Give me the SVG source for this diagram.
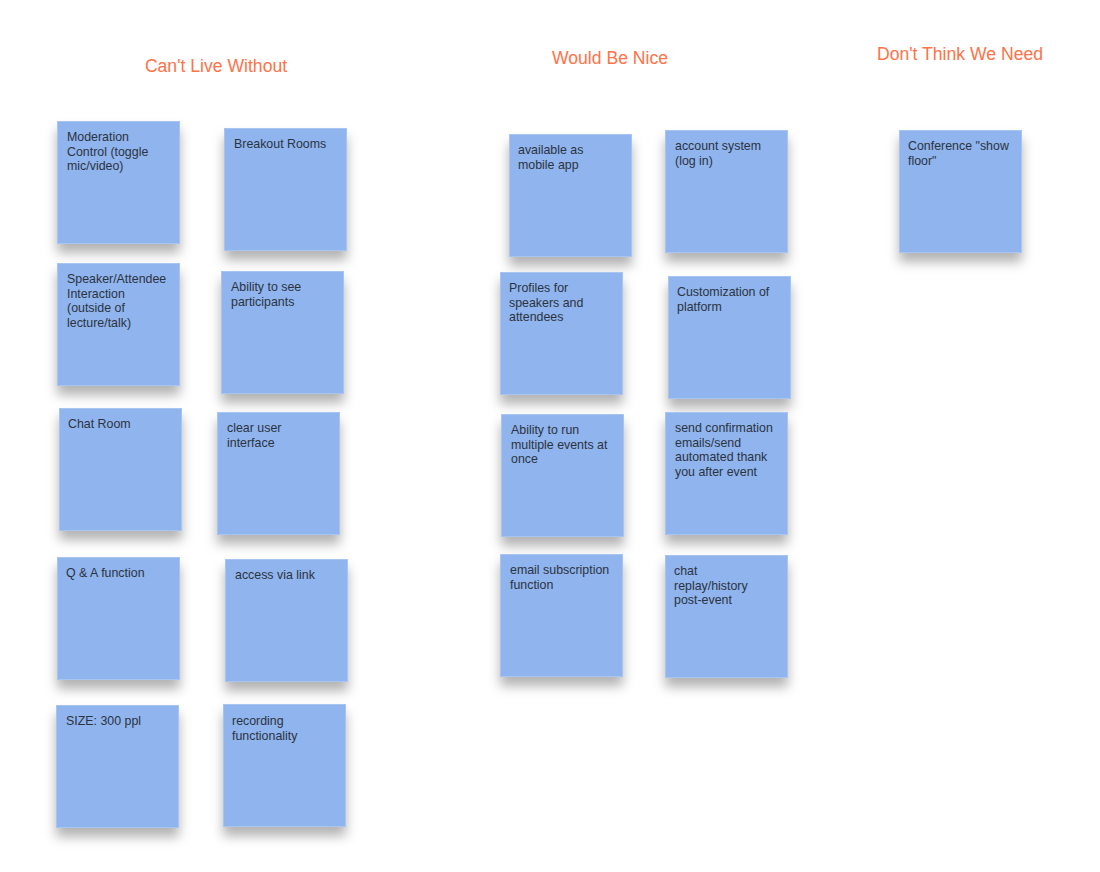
<svg xmlns="http://www.w3.org/2000/svg" width="1100" height="872" viewBox="0 0 1100 872">
<defs>
<filter id="sh" x="-20%" y="-20%" width="140%" height="160%">
<feDropShadow dx="0" dy="9" stdDeviation="6" flood-color="#000" flood-opacity="0.3"/>
</filter>
</defs>
<style>
.title{font-family:"Liberation Sans",Arial,sans-serif;font-size:17.6px;fill:#ff7247;text-anchor:middle}
.note{fill:#8fb4ee;stroke:#a8c5f2;stroke-width:1;filter:url(#sh)}
.t{font-family:"Liberation Sans",Arial,sans-serif;font-size:12.4px;fill:#2c3340}
</style>
<rect x="0" y="0" width="1100" height="872" fill="#ffffff"/>
<g id="titles">
<text class="title" x="216" y="72">Can't Live Without</text>
<text class="title" x="610" y="64">Would Be Nice</text>
<text class="title" x="960" y="60">Don't Think We Need</text>
</g>
<g id="connectors"></g>
<g id="n1"><rect class="note" x="57.5" y="121.5" width="122" height="122"/><text class="t" x="67" y="141"><tspan x="67">Moderation</tspan><tspan x="67" dy="14.5">Control (toggle</tspan><tspan x="67" dy="14.5">mic/video)</tspan></text></g>
<g id="n2"><rect class="note" x="224.5" y="128.5" width="122" height="122"/><text class="t" x="234" y="148">Breakout Rooms</text></g>
<g id="n3"><rect class="note" x="57.5" y="263.5" width="122" height="122"/><text class="t" x="67" y="283"><tspan x="67">Speaker/Attendee</tspan><tspan x="67" dy="14.5">Interaction</tspan><tspan x="67" dy="14.5">(outside of</tspan><tspan x="67" dy="14.5">lecture/talk)</tspan></text></g>
<g id="n4"><rect class="note" x="221.5" y="271.5" width="122" height="122"/><text class="t" x="231" y="291"><tspan x="231">Ability to see</tspan><tspan x="231" dy="14.5">participants</tspan></text></g>
<g id="n5"><rect class="note" x="59.5" y="408.5" width="122" height="122"/><text class="t" x="68" y="428">Chat Room</text></g>
<g id="n6"><rect class="note" x="217.5" y="412.5" width="122" height="122"/><text class="t" x="227" y="432"><tspan x="227">clear user</tspan><tspan x="227" dy="14.5">interface</tspan></text></g>
<g id="n7"><rect class="note" x="57.5" y="557.5" width="122" height="122"/><text class="t" x="66" y="577">Q &amp; A function</text></g>
<g id="n8"><rect class="note" x="225.5" y="559.5" width="122" height="122"/><text class="t" x="235" y="579">access via link</text></g>
<g id="n9"><rect class="note" x="56.5" y="705.5" width="122" height="122"/><text class="t" x="66" y="725">SIZE: 300 ppl</text></g>
<g id="n10"><rect class="note" x="223.5" y="704.5" width="122" height="122"/><text class="t" x="232" y="725"><tspan x="232">recording</tspan><tspan x="232" dy="14.5">functionality</tspan></text></g>
<g id="n11"><rect class="note" x="509.5" y="134.5" width="122" height="122"/><text class="t" x="518" y="154"><tspan x="518">available as</tspan><tspan x="518" dy="14.5">mobile app</tspan></text></g>
<g id="n12"><rect class="note" x="665.5" y="130.5" width="122" height="122"/><text class="t" x="675" y="150"><tspan x="675">account system</tspan><tspan x="675" dy="14.5">(log in)</tspan></text></g>
<g id="n13"><rect class="note" x="500.5" y="272.5" width="122" height="122"/><text class="t" x="509" y="292"><tspan x="509">Profiles for</tspan><tspan x="509" dy="14.5">speakers and</tspan><tspan x="509" dy="14.5">attendees</tspan></text></g>
<g id="n14"><rect class="note" x="668.5" y="276.5" width="122" height="122"/><text class="t" x="677" y="296"><tspan x="677">Customization of</tspan><tspan x="677" dy="14.5">platform</tspan></text></g>
<g id="n15"><rect class="note" x="501.5" y="414.5" width="122" height="122"/><text class="t" x="511" y="434"><tspan x="511">Ability to run</tspan><tspan x="511" dy="14.5">multiple events at</tspan><tspan x="511" dy="14.5">once</tspan></text></g>
<g id="n16"><rect class="note" x="665.5" y="412.5" width="122" height="122"/><text class="t" x="675" y="432"><tspan x="675">send confirmation</tspan><tspan x="675" dy="14.5">emails/send</tspan><tspan x="675" dy="14.5">automated thank</tspan><tspan x="675" dy="14.5">you after event</tspan></text></g>
<g id="n17"><rect class="note" x="500.5" y="554.5" width="122" height="122"/><text class="t" x="510" y="574"><tspan x="510">email subscription</tspan><tspan x="510" dy="14.5">function</tspan></text></g>
<g id="n18"><rect class="note" x="665.5" y="555.5" width="122" height="122"/><text class="t" x="674" y="575"><tspan x="674">chat</tspan><tspan x="674" dy="14.5">replay/history</tspan><tspan x="674" dy="14.5">post-event</tspan></text></g>
<g id="n19"><rect class="note" x="899.5" y="130.5" width="122" height="122"/><text class="t" x="908" y="150"><tspan x="908">Conference "show</tspan><tspan x="908" dy="14.5">floor"</tspan></text></g>
</svg>
